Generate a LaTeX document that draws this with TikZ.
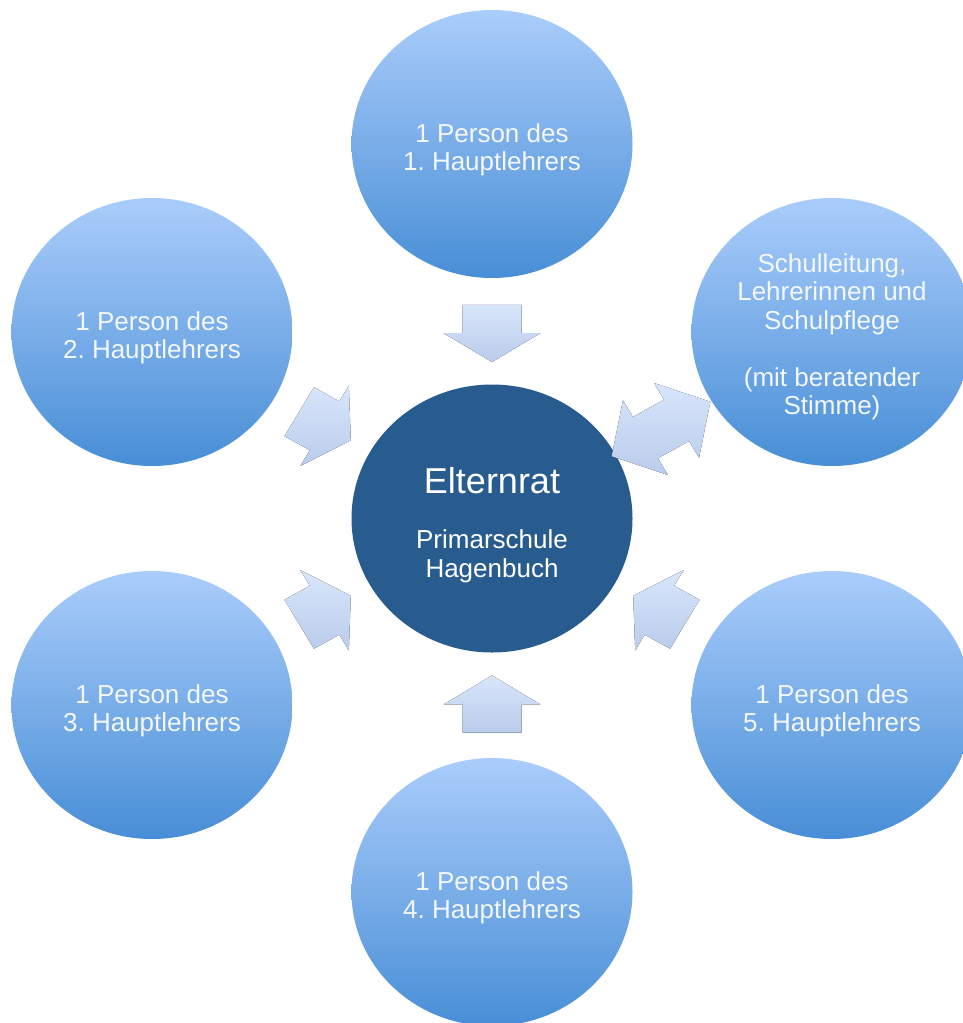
\documentclass[tikz,border=0pt]{standalone}
\usepackage{fontspec}
\setmainfont{Liberation Sans}
\frenchspacing
\usetikzlibrary{shapes.geometric}
\definecolor{outtop}{RGB}{170,205,251}
\definecolor{outbot}{RGB}{72,142,214}
\definecolor{hubblue}{RGB}{40,92,143}
\definecolor{lbltext}{RGB}{244,248,253}
\definecolor{arrtop}{RGB}{216,230,251}
\definecolor{arrbot}{RGB}{186,204,236}
\tikzset{
  outer/.style={ellipse, minimum width=281pt, minimum height=268pt, inner sep=0pt, top color=outtop, bottom color=outbot, draw=none},
  hub/.style={ellipse, minimum width=281pt, minimum height=268pt, inner sep=0pt, fill=hubblue, draw=none},
  lbl/.style={text=lbltext, align=center, inner sep=0pt, font=\fontsize{26}{28.5}\selectfont},
  blockarrow/.style={top color=arrtop, bottom color=arrbot, draw=none},
}
\begin{document}
\begin{tikzpicture}[x=1pt, y=1pt]
\clip (0,0) rectangle (963,-1023);
\fill[white] (0,0) rectangle (963,-1023);
% circles
\node[hub]   (hub) at (492,-518.5) {};
\node[outer] (p1)  at (492,-144) {};
\node[outer] (p2)  at (152,-332) {};
\node[outer] (sl)  at (832,-332) {};
\node[outer] (p3)  at (152,-705) {};
\node[outer] (p5)  at (832,-705) {};
\node[outer] (p4)  at (492,-892) {};
% texts
\node[lbl, yshift=-6pt] (t1) at (p1) {1 Person des\\1. Hauptlehrers};
\node[lbl, yshift=-6pt] (t2) at (p2) {1 Person des\\2. Hauptlehrers};
\node[lbl, yshift=-6pt] (t3) at (p3) {1 Person des\\3. Hauptlehrers};
\node[lbl, yshift=-6pt] (t4) at (p4) {1 Person des\\4. Hauptlehrers};
\node[lbl, yshift=-6pt] (t5) at (p5) {1 Person des\\5. Hauptlehrers};
\node[lbl, yshift=-5pt] (tsl) at (sl) {Schulleitung,\\Lehrerinnen und\\Schulpflege\\[28.5pt](mit beratender\\Stimme)};
\node[anchor=base, text=white, inner sep=0pt, font=\fontsize{36}{40}\selectfont, yshift=25pt] (th1) at (hub) {Elternrat};
\node[anchor=base, text=white, inner sep=0pt, font=\fontsize{26}{28}\selectfont, yshift=-29.5pt] (th2) at (hub) {Primarschule};
\node[anchor=base, text=white, inner sep=0pt, font=\fontsize{26}{28}\selectfont, yshift=-58.5pt] (th3) at (hub) {Hagenbuch};
% arrow anchors
\coordinate (a1) at (492,-333.5);
\coordinate (a2) at (325,-426);
\coordinate (a3) at (325,-610);
\coordinate (a4) at (492,-704);
\coordinate (a5) at (659,-610);
\coordinate (asl) at (661,-429);
% single arrows
\foreach \c/\r in {a1/-90, a2/-30, a3/30, a4/90, a5/150}{
  \fill[blockarrow, shift={(\c)}, yscale=0.957, rotate=\r]
    (-29.8,29.5) -- (-0.5,29.5) -- (-0.5,48.5) -- (29.8,0) -- (-0.5,-48.5)
    -- (-0.5,-29.5) -- (-29.8,-29.5) -- cycle;
}
% double arrow
\fill[blockarrow, shift={(asl)}, yscale=0.957, rotate=30]
  (-18,25) -- (18,25) -- (18,45) -- (57,0) -- (18,-45) -- (18,-25)
  -- (-18,-25) -- (-18,-45) -- (-57,0) -- (-18,45) -- cycle;
\end{tikzpicture}
\end{document}
